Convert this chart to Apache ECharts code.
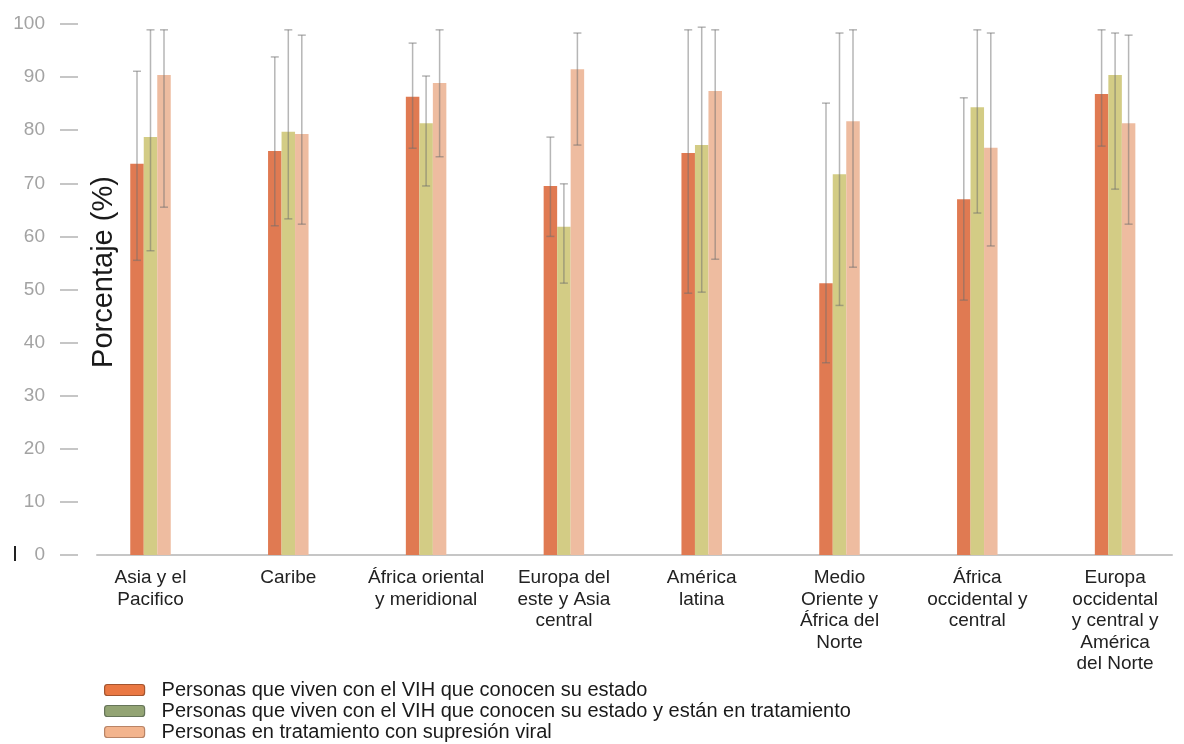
<!DOCTYPE html>
<html>
<head>
<meta charset="utf-8">
<script src="https://cdn.jsdelivr.net/npm/echarts@6/dist/echarts.min.js"></script>
<style>
  html, body { margin: 0; padding: 0; background: #ffffff; }
  #chart { width: 1184px; height: 744px; }
</style>
</head>
<body>
<div id="chart"></div>
<script>
// Regions (x-axis categories)
const categories = [
  'Asia y el\nPacifico',
  'Caribe',
  'África oriental\ny meridional',
  'Europa del\neste y Asia\ncentral',
  'América\nlatina',
  'Medio\nOriente y\nÁfrica del\nNorte',
  'África\noccidental y\ncentral',
  'Europa\noccidental\ny central y\nAmérica\ndel Norte'
];

const seriesNames = [
  'Personas que viven con el VIH que conocen su estado',
  'Personas que viven con el VIH que conocen su estado y están en tratamiento',
  'Personas en tratamiento con supresión viral'
];

// Percentages with lower / upper uncertainty bounds
const conocen     = [73.7, 76.1, 86.3, 69.5, 75.7, 51.2, 67.0, 86.8];
const conocenLow  = [55.5, 62.0, 76.6, 60.0, 49.3, 36.2, 48.0, 77.0];
const conocenHigh = [91.1, 93.8, 96.4, 78.7, 98.9, 85.1, 86.1, 98.9];

const tratamiento     = [78.7, 79.7, 81.3, 61.8, 77.2, 71.7, 84.3, 90.4];
const tratamientoLow  = [57.3, 63.3, 69.5, 51.2, 49.5, 47.0, 64.4, 68.9];
const tratamientoHigh = [98.9, 98.9, 90.2, 69.9, 99.4, 98.3, 98.9, 98.3];

const supresion     = [90.4, 79.3, 88.9, 91.5, 87.4, 81.7, 76.7, 81.3];
const supresionLow  = [65.5, 62.3, 75.0, 77.2, 55.7, 54.2, 58.2, 62.3];
const supresionHigh = [98.9, 97.9, 98.9, 98.3, 98.9, 98.9, 98.3, 97.9];

const barColors    = ['#E07A52', '#D3CC85', '#EEBCA0'];
const legendColors = ['#EA7843', '#93A474', '#F3B48D'];
const legendBorders = ['#A4552F', '#66755A', '#B98466'];

const BAR_W = 13.5;
const FONT = '"Liberation Sans", Arial, sans-serif';

const values = [conocen, tratamiento, supresion];
const lows   = [conocenLow, tratamientoLow, supresionLow];
const highs  = [conocenHigh, tratamientoHigh, supresionHigh];

// Whisker with caps, shifted to sit on the centre of its bar
function errorRenderer(offset) {
  return function (params, api) {
    const idx = api.value(0);
    const top = api.coord([idx, api.value(2)]);
    const bot = api.coord([idx, api.value(1)]);
    const x = top[0] + offset;
    const style = { stroke: 'rgba(110,110,110,0.5)', lineWidth: 1.5 };
    return {
      type: 'group',
      children: [
        { type: 'line', shape: { x1: x, y1: top[1], x2: x, y2: bot[1] }, style: style },
        { type: 'line', shape: { x1: x - 4, y1: top[1], x2: x + 4, y2: top[1] }, style: style },
        { type: 'line', shape: { x1: x - 4, y1: bot[1], x2: x + 4, y2: bot[1] }, style: style }
      ]
    };
  };
}

const series = [];
values.forEach(function (vals, s) {
  series.push({
    name: seriesNames[s],
    type: 'bar',
    xAxisIndex: 0,
    yAxisIndex: 0,
    data: vals,
    barWidth: BAR_W,
    barGap: '0%',
    itemStyle: { color: barColors[s] },
    z: 2
  });
});
values.forEach(function (vals, s) {
  series.push({
    type: 'custom',
    xAxisIndex: 0,
    yAxisIndex: 0,
    renderItem: errorRenderer((s - 1) * BAR_W),
    encode: { x: 0, y: [1, 2] },
    data: vals.map(function (v, i) { return [i, lows[s][i], highs[s][i]]; }),
    z: 5,
    silent: true
  });
});

const chart = echarts.init(document.getElementById('chart'), null, { renderer: 'canvas' });
chart.setOption({
  backgroundColor: '#ffffff',
  animation: false,
  textStyle: { fontFamily: FONT },
  grid: [
    { left: 81.6, right: -24, top: 24, bottom: 189 },
    { left: 97, right: 12, top: 24, bottom: 189 }
  ],
  xAxis: [
    {
      type: 'category',
      gridIndex: 0,
      data: categories,
      axisLine: { show: false },
      axisTick: { show: false },
      axisLabel: {
        interval: 0,
        fontFamily: FONT,
        fontSize: 19,
        lineHeight: 21.6,
        color: '#222222',
        margin: 12
      }
    },
    {
      type: 'value',
      gridIndex: 1,
      min: 0,
      max: 1,
      axisLine: { show: true, lineStyle: { color: '#c6c6c6', width: 2 } },
      axisTick: { show: false },
      axisLabel: { show: false },
      splitLine: { show: false }
    }
  ],
  yAxis: [
    {
      type: 'value',
      gridIndex: 0,
      min: 0,
      max: 100,
      interval: 10,
      offset: 3.6,
      axisLine: { show: false },
      axisTick: { show: true, length: 18, lineStyle: { color: '#b4b4b4', width: 1.5 } },
      splitLine: { show: false },
      axisLabel: {
        fontFamily: FONT,
        fontSize: 19,
        color: '#a3a3a3',
        margin: 33
      }
    },
    { type: 'value', gridIndex: 1, show: false }
  ],
  legend: {
    orient: 'vertical',
    left: 104,
    top: 680,
    padding: 0,
    itemWidth: 40,
    itemHeight: 11,
    itemGap: 1,
    icon: 'roundRect',
    textStyle: { fontFamily: FONT, fontSize: 20, lineHeight: 18.5, color: '#1a1a1a', padding: [0, 0, 0, 12] },
    data: seriesNames.map(function (n, i) {
      return {
        name: n,
        itemStyle: { color: legendColors[i], borderColor: legendBorders[i], borderWidth: 1.2 }
      };
    })
  },
  graphic: [
    {
      type: 'text',
      x: 104,
      y: 272,
      rotation: Math.PI / 2,
      style: {
        text: 'Porcentaje (%)',
        fontFamily: FONT,
        fontSize: 29,
        fill: '#1a1a1a',
        align: 'center',
        verticalAlign: 'middle'
      }
    },
    {
      type: 'rect',
      shape: { x: 14, y: 546, width: 2, height: 15 },
      style: { fill: '#222222' }
    }
  ],
  series: series
});
</script>
</body>
</html>
